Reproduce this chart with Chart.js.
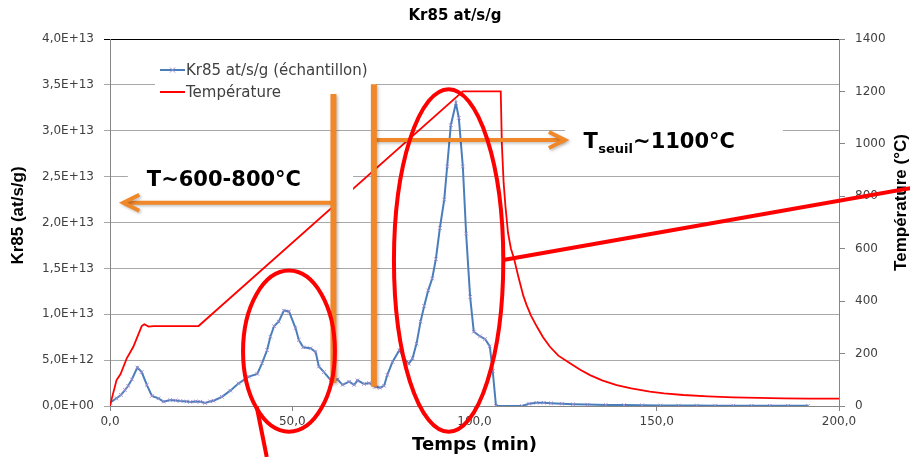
<!DOCTYPE html>
<html>
<head>
<meta charset="utf-8">
<script src="https://cdn.jsdelivr.net/npm/chart.js@4.4.1/dist/chart.umd.min.js"></script>
<style>
  html, body { margin: 0; padding: 0; background: #fff; }
  #chart { display: block; }
</style>
</head>
<body>
<canvas id="chart" width="910" height="457"></canvas>
<script>
/* Kr85 release vs temperature - Chart.js redraw */

// Kr85 series (time in min, at/s/g)
const kr85Times = [0, 1.8, 3, 4.1, 5, 6, 7.5, 8.7, 10.1, 11.5, 13.3, 14.7, 16.5, 18, 19.3, 21, 22, 23.5, 24.8, 26.1,
  27.5, 28.4, 30.7, 33, 35.3, 38.1, 40.4, 41.7, 43.1, 44, 45, 46.3, 47.7, 49.1, 50.9, 51.8, 53, 55, 56.4, 57.3,
  58.7, 60.6, 62.4, 63.8, 65.6, 67, 67.9, 69.7, 71.1, 72.9, 74.1, 75.2, 76.1, 77.5, 79.4, 80.7, 82, 83, 84.1, 85.2,
  86.2, 87.3, 88.4, 89.4, 90.5, 91.7, 92.5, 93.5, 94.9, 95.7, 96.8, 97.7, 98.8, 99.8, 101.5, 102.9, 104.2, 105, 105.9,
  113, 115, 117, 119, 121, 124, 127, 131, 136, 141, 146, 151, 156, 161, 166, 171, 176, 181, 186, 191.5];
const kr85Values = [0.36, 0.84, 1.2, 1.74, 2.2, 2.9, 4.2, 3.7, 2.3, 1.1, 0.84, 0.47, 0.65, 0.6, 0.55, 0.5, 0.44, 0.5, 0.47, 0.33,
  0.5, 0.58, 1.0, 1.67, 2.47, 3.2, 3.5, 4.65, 6.1, 7.55, 8.7, 9.2, 10.4, 10.3, 8.5, 7.2, 6.4, 6.3, 5.9, 4.3,
  3.7, 2.8, 2.9, 2.3, 2.65, 2.3, 2.8, 2.4, 2.5, 2.1, 2.0, 2.2, 3.4, 4.8, 6.1, 5.2, 4.6, 5.2, 6.8, 9.2,
  10.9, 12.6, 13.9, 16.0, 19.4, 22.5, 26.1, 30.6, 33.0, 31.4, 26.1, 18.8, 11.9, 8.1, 7.6, 7.3, 6.5, 3.8, 0,
  0, 0.25, 0.35, 0.35, 0.3, 0.25, 0.2, 0.15, 0.12, 0.1, 0.08, 0.06, 0.05, 0.05, 0.04, 0.04, 0.03, 0.03, 0.03, 0.03]
  .map((v) => v * 1e12);

// Temperature series (time in min, °C)
const tempTimes = [0, 0.5, 1.8, 2.9, 4.6, 6.4, 8.7, 9.4, 10.6, 11.9, 24.3, 96.8, 107.2, 107.5, 108, 108.5, 109.2, 110,
  110.8, 112, 113.4, 114.3, 115.5, 117.1, 118.8, 120.7, 123, 126.2, 129, 131.7, 135, 139, 143, 148.1, 152, 157.3,
  164, 171, 178, 184.7, 192, 200];
const tempValues = [0, 29, 99, 122, 182, 226, 305, 312, 303, 305, 305, 1200, 1200, 1000, 850, 760, 660, 600,
  565, 495, 420, 385, 345, 303, 262, 226, 192, 163, 138, 118, 98, 80, 67, 55, 48, 42,
  37, 33, 31, 29, 28.5, 28];

const xTicks = [0, 200, 50];        // min, max, step
const yTicks = [0, 4e13, 5e12];
const y1Ticks = [0, 1400, 200];

const seriesLabels = ["Kr85 at/s/g (échantillon)", "Température"];

// annotations, in data units (time, Kr85 axis)
const orangeBars = [[61.3, 0.25e13, 3.40e13], [72.4, 0.21e13, 3.506e13]];
const orangeArrows = [[2.216e13, 61.3, 3.65], [2.9e13, 72.4, 124.8]];
const redEllipses = [[36.5, 61.7, -0.28e13, 1.476e13], [77.9, 107.9, -0.28e13, 3.452e13]];
const redLines = [[40.25, -0.008e13, 43.0, -0.556e13], [107.9, 1.591e13, 219.5, 2.373e13]];
const noteBoxes = [[4.9, 66.7, 2.79e13, 2.19e13], [124.8, 184.6, 3.117e13, 2.681e13]];
const noteLow = { text: "T~600-800°C", t: 10.1, v: 2.398e13 };
const noteHigh = { main: "T", sub: "seuil", rest: "~1100°C", t: 129.9, v: 2.809e13 };

const ORANGE = "#f0882a";
const RED = "#ff0000";
const BLUE = "#4a7ebb";

function fmtSci(v) {
  if (v === 0) return "0,0E+00";
  const e = Math.floor(Math.log10(v) + 1e-9);
  const m = Math.round(v / Math.pow(10, e) * 10) / 10;
  return m.toFixed(1).replace(".", ",") + "E+" + String(e).padStart(2, "0");
}

const annotations = {
  id: "annotations",
  afterDraw(chart) {
    const ctx = chart.ctx;
    const xs = chart.scales.x, ys = chart.scales.y, y1 = chart.scales.y1;
    const px = (t) => xs.getPixelForValue(t);
    const py = (v) => ys.getPixelForValue(v);
    const area = chart.chartArea;
    ctx.save();

    // white text boxes
    ctx.fillStyle = "#fff";
    noteBoxes.forEach(([t0, t1, v0, v1]) => {
      ctx.fillRect(px(t0), py(v0), px(t1) - px(t0), py(v1) - py(v0));
    });

    // legend (inside plot area, white box)
    const lx = area.left + 45, ly = area.top + 16;
    ctx.fillRect(lx, ly, 221, 50);
    ctx.font = '15px "DejaVu Sans"';
    ctx.textBaseline = "middle";
    ctx.fillStyle = "#404040";
    const legendRows = [[BLUE, 2, true], [RED, 2, false]];
    legendRows.forEach(([color, w, marker], i) => {
      const yy = ly + 15 + i * 22;
      ctx.strokeStyle = color;
      ctx.lineWidth = w;
      ctx.beginPath();
      ctx.moveTo(lx + 5, yy);
      ctx.lineTo(lx + 30, yy);
      ctx.stroke();
      if (marker) {
        ctx.strokeStyle = "#9d8bd0";
        ctx.lineWidth = 1;
        ctx.beginPath();
        ctx.moveTo(lx + 15, yy - 2.5); ctx.lineTo(lx + 20, yy + 2.5);
        ctx.moveTo(lx + 20, yy - 2.5); ctx.lineTo(lx + 15, yy + 2.5);
        ctx.stroke();
      }
      ctx.fillText(seriesLabels[i], lx + 31, yy + 1);
    });

    // notes
    ctx.fillStyle = "#000";
    ctx.textBaseline = "alphabetic";
    ctx.font = 'bold 21px "DejaVu Sans"';
    ctx.fillText(noteLow.text, px(noteLow.t), py(noteLow.v));
    let hx = px(noteHigh.t);
    const hy = py(noteHigh.v);
    ctx.fillText(noteHigh.main, hx, hy);
    hx += ctx.measureText(noteHigh.main).width + 0.5;
    ctx.font = 'bold 13px "DejaVu Sans"';
    ctx.fillText(noteHigh.sub, hx, hy + 5);
    hx += ctx.measureText(noteHigh.sub).width;
    ctx.font = 'bold 21px "DejaVu Sans"';
    ctx.fillText(noteHigh.rest, hx, hy);

    // axis titles (left and right, both reading upwards)
    ctx.font = 'bold 17px "Liberation Sans"';
    ctx.textAlign = "center";
    ctx.textBaseline = "middle";
    ctx.save();
    ctx.translate(18, (area.top + area.bottom) / 2 - 7);
    ctx.rotate(-Math.PI / 2);
    ctx.fillText("Kr85 (at/s/g)", 0, 0);
    ctx.restore();
    ctx.save();
    ctx.translate(y1.right - 8.5, (area.top + area.bottom) / 2 - 20);
    ctx.rotate(-Math.PI / 2);
    ctx.fillText("Température (°C)", 0, 0);
    ctx.restore();
    ctx.textAlign = "left";

    // orange bars and arrows
    ctx.shadowColor = "rgba(0,0,0,0.25)";
    ctx.shadowBlur = 3;
    ctx.shadowOffsetX = 1.5;
    ctx.shadowOffsetY = 1.5;
    ctx.strokeStyle = ORANGE;
    ctx.lineCap = "butt";
    orangeArrows.forEach(([v, t0, t1]) => {
      const y = py(v), x0 = px(t0), x1 = px(t1);
      const dir = Math.sign(x1 - x0);
      ctx.lineWidth = 4;
      ctx.beginPath();
      ctx.moveTo(x0, y);
      ctx.lineTo(x1 - dir * 2, y);
      ctx.stroke();
      ctx.lineJoin = "miter";
      ctx.beginPath();
      ctx.moveTo(x1 - dir * 16, y - 8);
      ctx.lineTo(x1, y);
      ctx.lineTo(x1 - dir * 16, y + 8);
      ctx.stroke();
    });
    orangeBars.forEach(([t, v0, v1]) => {
      ctx.lineWidth = 6;
      ctx.beginPath();
      ctx.moveTo(px(t), py(v0));
      ctx.lineTo(px(t), py(v1));
      ctx.stroke();
    });
    ctx.shadowColor = "transparent";

    // red ellipses and pointer lines
    ctx.strokeStyle = RED;
    ctx.lineWidth = 4;
    redEllipses.forEach(([t0, t1, v0, v1]) => {
      const cx = (px(t0) + px(t1)) / 2, cy = (py(v0) + py(v1)) / 2;
      ctx.beginPath();
      ctx.ellipse(cx, cy, Math.abs(px(t1) - px(t0)) / 2, Math.abs(py(v1) - py(v0)) / 2, 0, 0, Math.PI * 2);
      ctx.stroke();
    });
    redLines.forEach(([t0, v0, t1, v1]) => {
      ctx.beginPath();
      ctx.moveTo(px(t0), py(v0));
      ctx.lineTo(px(t1), py(v1));
      ctx.stroke();
    });
    ctx.restore();
  },
};

const tickFont = { family: "DejaVu Sans", size: 12 };

new Chart(document.getElementById("chart"), {
  type: "line",
  data: {
    datasets: [
      {
        label: seriesLabels[0],
        data: kr85Times.map((t, i) => ({ x: t, y: kr85Values[i] })),
        yAxisID: "y",
        borderColor: BLUE,
        borderWidth: 2,
        pointStyle: "crossRot",
        pointRadius: 2.5,
        pointBorderColor: "#9d8bd0",
        pointBorderWidth: 1,
        tension: 0,
        order: 2,
      },
      {
        label: seriesLabels[1],
        data: tempTimes.map((t, i) => ({ x: t, y: tempValues[i] })),
        yAxisID: "y1",
        borderColor: RED,
        borderWidth: 1.8,
        pointRadius: 0,
        tension: 0,
        order: 1,
      },
    ],
  },
  options: {
    responsive: false,
    animation: false,
    devicePixelRatio: 1,
    layout: { padding: 0 },
    plugins: {
      legend: { display: false },
      tooltip: { enabled: false },
      title: {
        display: true,
        text: "Kr85 at/s/g",
        color: "#000",
        font: { family: "DejaVu Sans", size: 15, weight: "bold" },
        padding: { top: 7, bottom: 14 },
      },
    },
    scales: {
      x: {
        type: "linear",
        min: xTicks[0],
        max: xTicks[1],
        ticks: {
          stepSize: xTicks[2],
          maxRotation: 0,
          padding: 4,
          color: "#404040",
          font: tickFont,
          callback: (v) => v.toFixed(1).replace(".", ","),
        },
        grid: { drawOnChartArea: false, tickLength: 5, color: "#868686" },
        border: { color: "#868686" },
        title: {
          display: true,
          text: "Temps (min)",
          color: "#000",
          font: { family: "DejaVu Sans", size: 18, weight: "bold" },
          padding: { top: 0, bottom: 1 },
        },
        afterFit: (s) => { s.height = 51; },
      },
      y: {
        position: "left",
        min: yTicks[0],
        max: yTicks[1],
        ticks: { stepSize: yTicks[2], padding: 10, color: "#404040", font: tickFont, callback: fmtSci },
        grid: {
          color: (c) => (c.tick && c.tick.value === yTicks[1] ? "#000" : "#a8a8a8"),
          tickLength: 6,
        },
        border: { color: "#868686" },
        afterFit: (s) => { s.width = 110; },
      },
      y1: {
        position: "right",
        min: y1Ticks[0],
        max: y1Ticks[1],
        ticks: { stepSize: y1Ticks[2], padding: 10, color: "#404040", font: tickFont, callback: (v) => String(v) },
        grid: { drawOnChartArea: false, tickLength: 6, color: "#868686" },
        border: { color: "#868686" },
        afterFit: (s) => { s.width = 71; },
      },
    },
  },
  plugins: [annotations],
});
</script>
</body>
</html>
